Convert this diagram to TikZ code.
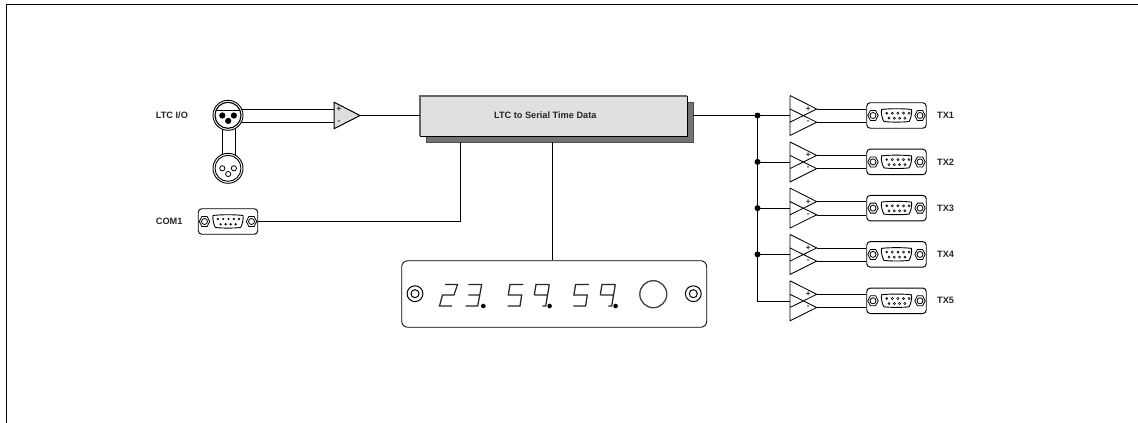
\documentclass[tikz,border=0pt]{standalone}
\usepackage{fontspec}
\setmainfont{Liberation Sans}
\usetikzlibrary{calc}
\newcommand{\hexnut}[2]{%
  \draw[line width=.8pt] (#1,#2) circle[radius=3.0];
  \draw[line width=.8pt] (#1-2.6,#2-5)--(#1+2.6,#2-5)--(#1+5.2,#2)--(#1+2.6,#2+5)--(#1-2.6,#2+5)--(#1-5.2,#2)--cycle;
}
\newcommand{\dshell}[3]{% name, cx, cy
  \node[dbox] (#1) at (#2,#3) {};
  \hexnut{#2-23.5}{#3}
  \hexnut{#2+23.5}{#3}
  \draw[line width=.9pt] (#2-15,#3-6) .. controls (#2-8,#3-7) and (#2+8,#3-7) .. (#2+15,#3-6) .. controls (#2+15.7,#3-2) and (#2+14,#3+4) .. (#2+12.5,#3+6)
     .. controls (#2+6,#3+6.8) and (#2-6,#3+6.8) .. (#2-12.5,#3+6) .. controls (#2-14,#3+4) and (#2-15.7,#3-2) .. (#2-15,#3-6) -- cycle;
}
\newcommand{\seg}[2]{% x of lower-left, digit path
  \begin{scope}[shift={(#1,0)}]\draw[segline] #2;\end{scope}
}
\tikzset{
  x=1pt,y=-1pt,
  line width=.9pt,
  label/.style={font=\bfseries\fontsize{9.2}{11}\selectfont,text=black!85,inner sep=0pt},
  polarity/.style={font=\bfseries\fontsize{8}{8}\selectfont,inner sep=0pt,text=black!85},
  dbox/.style={draw,rounded corners=3.5pt,minimum width=59.5pt,minimum height=25.5pt,inner sep=0pt,line width=.95pt},
  segline/.style={line width=1.25pt,black!85,line cap=butt,line join=miter},
  junction/.style={circle,fill=black,inner sep=0pt,minimum size=6pt},
  ampfill/.style={draw,fill=black!13,line join=miter},
  xlrring/.style={circle,draw,inner sep=0pt,line width=.9pt,fill=white},
  openpin/.style={draw,line width=.55pt,fill=white},
}
\begin{document}
\begin{tikzpicture}
\useasboundingbox (0,0) rectangle (1138,423);
% outer frame
\draw[line width=1.3pt,line join=miter] (6.7,423) -- (6.7,4.7) -- (1138,4.7);

% labels
\node[label,anchor=west] at (155.7,115) {LTC I/O};
\node[label,anchor=west] at (155.7,221.5) {COM1};

% XLR links
\coordinate (xt) at (228,115.3);
\coordinate (xb) at (228,168.3);
\draw (221.7,115) -- (221.7,165);
\draw (235,115) -- (235,165);
\coordinate (ampA) at (334,109);
\coordinate (ampB) at (334,122.5);
\draw (228,109) -- (ampA);
\draw (228,122.5) -- (ampB);

% XLR top
\node[xlrring,minimum size=30pt] (xlrtop) at (xt) {};
\node[xlrring,minimum size=26pt,line width=1.1pt] at (xt) {};
\begin{scope}
 \clip (xt) circle[radius=12.5];
 \draw[line width=1.1pt] (214,110.8) -- (242,110.8);
\end{scope}
\foreach \dx/\dy in {-5.7/0.2,5.9/0.2,0.2/5.6} \fill ($(xt)+(\dx,\dy)$) circle[radius=3.1];
% XLR bottom
\node[xlrring,minimum size=30pt] (xlrbot) at (xb) {};
\node[xlrring,minimum size=26pt] at (xb) {};
\foreach \dx/\dy in {-5.7/0,5.9/0,0.2/5.7} \draw[line width=.8pt] ($(xb)+(\dx,\dy)$) circle[radius=2.6];

% input amp
\draw[ampfill,line width=1pt] (334,102.2) -- (360,115.5) -- (334,128.8) -- cycle;
\coordinate (amptip) at (360,115.5);
\node[polarity] at (339,109.3) {+};
\node[polarity] at (339,122.3) {-};

% main box
\fill[black!55,draw=black!70] (426,102.5) rectangle (693,142);
\node[minimum width=267pt,minimum height=40pt,inner sep=0pt,fill=black!12,anchor=north west] (core) at (420,96) {};
\draw[black!60,line width=1.2pt] (420,136) -- (420,96) -- (687,96);
\draw[line width=1pt] (420,136) -- (687,136) -- (687,96);
\node[label] at (545.3,115.5) {LTC to Serial Time Data};
\coordinate (coreL) at (420,115.5);
\coordinate (coreR) at (693,115.5);
\coordinate (coreA) at (460,142);
\coordinate (coreB) at (552.5,142);
\draw (amptip) -- (coreL);

% COM1
\dshell{com}{228}{221.5}
\fill (228-10.6+0.5,219) circle[radius=1.2];
\foreach \k in {1,2,3}{\fill (228-10.1+\k*5.3,219) circle[radius=1.2];}
\draw[openpin] (228+11,219) circle[radius=1.1];
\foreach \k in {0,1,2,3}{\fill (228-7.4+\k*5,224.3) circle[radius=1.2];}
\draw (com.east) -| (coreA);

% display
\node[draw,rounded corners=6pt,minimum width=305pt,minimum height=66.5pt,inner sep=0pt,line width=.85pt] (disp) at (554.2,294) {};
\draw (coreB) -- (disp.north -| coreB);
\foreach \cx in {415,693.3}{\draw[line width=1pt] (\cx,293.7) circle[radius=7.9]; \draw[line width=1pt] (\cx,293.7) circle[radius=4];}
\draw[line width=1.3pt,black!75] (653.3,294.2) circle[radius=13.5];
% digits: local x from lower left
\def\dtwo{(6,284.5) -- (18.5,284.5) -- (15,295) -- (3.5,295) -- (0.5,306) -- (13,306)}
\def\dthree{(2.6,284.5) -- (16,284.5) -- (12,306) -- (0,306) (2.6,295) -- (13.8,295)}
\def\dfive{(15.6,284.5) -- (2.3,284.5) -- (0.6,295) -- (14,295) -- (12.3,306) -- (0,306)}
\def\dnine{(1,295) -- (14.4,295) (16,284.5) -- (2.7,284.5) -- (1,295) (16,284.5) -- (12.4,306) -- (9,306)}
\seg{439}{\dtwo}
\seg{465.7}{\dthree}
\seg{507.7}{\dfive}
\seg{533.3}{\dnine}
\seg{573.3}{\dfive}
\seg{599.3}{\dnine}
\foreach \cx in {483.3,549.6,615.6}{\fill (\cx,306) circle[radius=2.3];}

% outputs
\coordinate (busA) at (757.5,115.5);
\foreach \n/\y in {1/115.5,2/161.9,3/208.1,4/254.4,5/300.8}{
  \coordinate (in\n) at (790,\y);
  \draw[line join=miter,line width=.85pt] (790,\y-20) -- (816.7,\y-6.5) -- (790,\y+6.7)
     (790,\y-6.5) -- (816.7,\y+6.7) -- (790,\y+20) -- cycle (790,\y-20) -- (790,\y+20);
  \node[polarity] at (808.3,\y-6.4) {+};
  \node[polarity] at (808.3,\y+6.8) {-};
  \dshell{tx\n}{896.5}{\y}
  \fill (886.7,\y-2.3) circle[radius=1.35];
  \foreach \k in {1,2,3,4}{\draw[openpin] (886.7+\k*5.6,\y-2.3) circle[radius=1.1];}
  \foreach \k in {0,1,2,3}{\draw[openpin] (889+\k*5.3,\y+2.7) circle[radius=1.1];}
  \draw (816.7,\y-6.5) -- (tx\n.west |- 0,\y-6.5);
  \draw (816.7,\y+6.7) -- (tx\n.west |- 0,\y+6.7);
  \node[label,anchor=west] at (937,\y) {TX\n};
}
\draw (coreR) -- (in1);
\foreach \n in {2,3,4}{\draw (busA |- in\n) -- (in\n);\node[junction] at (busA |- in\n) {};}
\node[junction] at (busA) {};
\draw (busA) |- (in5);
\end{tikzpicture}
\end{document}
